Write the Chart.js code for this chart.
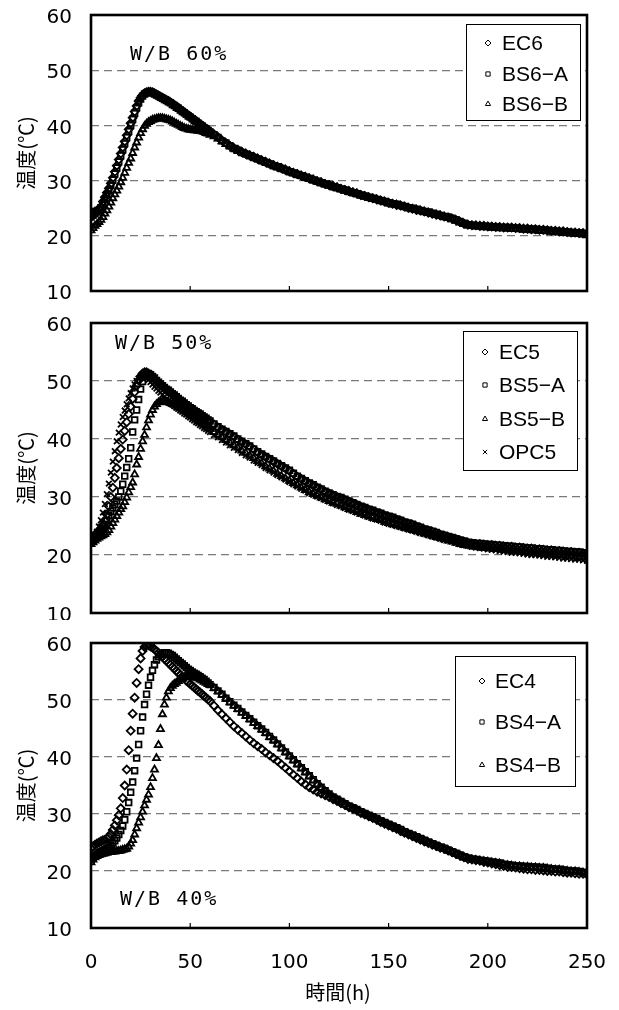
<!DOCTYPE html>
<html>
<head>
<meta charset="utf-8">
<script src="https://cdn.jsdelivr.net/npm/chart.js@4/dist/chart.umd.min.js"></script>
<style>
body { margin: 0; background: #fff; width: 619px; height: 1010px; position: relative; overflow: hidden; }
canvas { position: absolute; left: 0; }
</style>
</head>
<body>
<canvas id="c60" width="619" height="305" style="top:0px"></canvas>
<canvas id="c50" width="619" height="315" style="top:305px"></canvas>
<canvas id="c40" width="619" height="390" style="top:620px"></canvas>
<script>
// elapsed time (h), shared by all three panels
const hours = [
    0,1,2,3,4,5,6,7,8,9,
    10,11,12,13,14,15,16,17,18,19,
    20,21,22,23,24,25,26,27,28,29,
    30,31,32,33,34,35,36,37,38,39,
    40,41,42,43,44,45,46,47,48,49,
    50,51,52,53,54,55,56,57,58,59,
    60,
    62,64,66,68,70,72,74,76,78,80,
    82,84,86,88,90,92,94,96,98,100,
    102,104,106,108,110,112,114,116,118,120,
    122,124,126,128,130,132,134,136,138,140,
    142,144,146,148,150,152,154,156,158,160,
    162,164,166,168,170,172,174,176,178,180,
    182,184,186,188,190,192,194,196,198,200,
    202,204,206,208,210,212,214,216,218,220,
    222,224,226,228,230,232,234,236,238,240,
    242,244,246,248,250
];
const xTicks = [0, 50, 100, 150, 200, 250];
const yTicks = [10, 20, 30, 40, 50, 60];

// W/B 60%
const ec6 = [
    24.0,24.2,24.4,24.5,24.8,25.3,26.2,27.0,27.8,28.6,
    29.5,30.5,31.6,32.7,33.8,34.9,36.0,37.1,38.2,39.3,
    40.4,41.4,42.5,43.5,44.4,45.0,45.5,45.8,46.0,46.1,
    46.1,46.0,45.8,45.6,45.4,45.2,45.0,44.8,44.6,44.4,
    44.2,43.9,43.7,43.4,43.2,42.9,42.6,42.4,42.1,41.8,
    41.6,41.3,41.0,40.8,40.5,40.2,40.0,39.7,39.4,39.2,
    38.9,
    38.4,37.9,37.3,36.8,36.3,35.9,35.6,35.2,34.9,34.6,
    34.3,34.0,33.7,33.4,33.1,32.8,32.5,32.3,32.0,31.7,
    31.4,31.2,30.9,30.7,30.4,30.2,29.9,29.7,29.4,29.2,
    29.0,28.8,28.5,28.3,28.1,27.9,27.7,27.4,27.2,27.0,
    26.8,26.6,26.4,26.2,26.0,25.8,25.6,25.5,25.3,25.1,
    24.9,24.7,24.6,24.4,24.2,24.0,23.8,23.7,23.5,23.3,
    23.1,22.8,22.5,22.2,22.0,21.9,21.9,21.8,21.8,21.7,
    21.7,21.6,21.6,21.5,21.5,21.5,21.4,21.4,21.3,21.3,
    21.2,21.2,21.1,21.1,21.0,20.9,20.9,20.8,20.8,20.7,
    20.6,20.6,20.5,20.5,20.4
];
const bs6a = [
    23.4,23.7,24.0,24.3,24.6,25.1,25.8,26.6,27.4,28.2,
    29.1,30.1,31.2,32.3,33.4,34.5,35.6,36.7,37.8,38.9,
    40.0,41.1,42.2,43.2,44.1,44.8,45.3,45.7,45.9,46.0,
    46.0,45.9,45.7,45.5,45.3,45.1,44.9,44.7,44.5,44.3,
    44.1,43.8,43.6,43.3,43.1,42.8,42.5,42.3,42.0,41.7,
    41.5,41.2,40.9,40.7,40.4,40.1,39.9,39.6,39.3,39.1,
    38.8,
    38.3,37.8,37.2,36.8,36.3,35.8,35.5,35.1,34.8,34.5,
    34.2,33.9,33.6,33.3,33.0,32.7,32.5,32.2,31.9,31.6,
    31.4,31.1,30.9,30.6,30.4,30.1,29.9,29.6,29.4,29.2,
    28.9,28.7,28.5,28.3,28.0,27.8,27.6,27.4,27.2,27.0,
    26.8,26.6,26.4,26.2,26.0,25.8,25.7,25.5,25.3,25.1,
    25.0,24.8,24.6,24.4,24.3,24.1,23.9,23.7,23.5,23.4,
    23.2,22.9,22.6,22.3,22.0,21.9,21.8,21.8,21.7,21.7,
    21.6,21.6,21.5,21.5,21.5,21.4,21.4,21.3,21.3,21.3,
    21.2,21.2,21.1,21.0,21.0,20.9,20.8,20.8,20.7,20.7,
    20.6,20.5,20.5,20.4,20.3
];
const bs6b = [
    21.0,21.4,21.8,22.1,22.5,22.9,23.4,24.0,24.6,25.3,
    26.0,26.8,27.5,28.2,28.9,29.7,30.5,31.4,32.3,33.2,
    34.0,35.0,36.0,36.9,37.8,38.6,39.3,39.9,40.3,40.6,
    40.8,41.0,41.1,41.2,41.3,41.3,41.3,41.2,41.1,41.0,
    40.9,40.7,40.5,40.3,40.1,39.9,39.7,39.5,39.4,39.3,
    39.2,39.2,39.1,39.1,39.0,39.0,38.9,38.8,38.6,38.5,
    38.3,
    38.0,37.6,37.1,36.6,36.2,35.8,35.4,35.1,34.8,34.5,
    34.2,33.9,33.6,33.3,33.0,32.7,32.4,32.1,31.9,31.6,
    31.3,31.1,30.8,30.6,30.3,30.1,29.8,29.6,29.3,29.1,
    28.9,28.7,28.4,28.2,28.0,27.8,27.6,27.3,27.1,26.9,
    26.7,26.5,26.3,26.1,25.9,25.7,25.6,25.4,25.2,25.0,
    24.8,24.7,24.5,24.3,24.1,24.0,23.8,23.6,23.4,23.2,
    23.0,22.7,22.4,22.1,21.9,21.8,21.7,21.7,21.6,21.6,
    21.5,21.5,21.4,21.4,21.3,21.3,21.2,21.2,21.1,21.1,
    21.0,21.0,20.9,20.9,20.8,20.7,20.7,20.6,20.5,20.5,
    20.4,20.3,20.3,20.2,20.1
];

// W/B 50%
const ec5 = [
    23.0,23.2,23.5,23.8,24.2,24.6,25.2,25.9,27.0,28.4,
    30.0,31.6,33.3,35.0,36.7,38.3,39.9,41.4,42.9,44.3,
    45.6,46.9,48.1,49.2,50.1,50.8,51.3,51.5,51.5,51.3,
    51.0,50.7,50.3,50.0,49.6,49.3,49.0,48.7,48.5,48.2,
    48.0,47.7,47.4,47.2,46.9,46.6,46.3,46.1,45.8,45.5,
    45.3,45.1,44.8,44.6,44.4,44.2,43.9,43.7,43.5,43.2,
    43.0,
    42.5,42.0,41.6,41.2,40.8,40.4,39.9,39.5,39.1,38.7,
    38.2,37.7,37.3,36.9,36.5,36.1,35.7,35.3,34.9,34.5,
    34.0,33.5,33.1,32.7,32.3,32.0,31.6,31.3,30.9,30.6,
    30.3,30.0,29.8,29.5,29.2,28.9,28.6,28.3,28.1,27.8,
    27.6,27.3,27.1,26.8,26.6,26.4,26.1,25.9,25.6,25.4,
    25.2,24.9,24.7,24.4,24.2,24.0,23.8,23.5,23.3,23.1,
    22.9,22.7,22.5,22.3,22.1,22.0,21.9,21.9,21.8,21.7,
    21.7,21.6,21.6,21.5,21.4,21.4,21.3,21.3,21.2,21.1,
    21.1,21.0,21.0,20.9,20.8,20.8,20.7,20.7,20.6,20.5,
    20.5,20.4,20.4,20.3,20.3
];
const bs5a = [
    22.5,22.8,23.1,23.4,23.7,24.1,24.6,25.3,26.0,26.8,
    27.5,28.1,28.7,29.3,30.0,31.0,32.2,33.6,35.1,36.6,
    38.5,41.2,43.3,45.0,46.8,48.6,49.9,50.8,51.2,51.3,
    51.1,50.8,50.5,50.1,49.8,49.5,49.2,48.9,48.6,48.4,
    48.1,47.8,47.6,47.3,47.0,46.7,46.5,46.2,45.9,45.7,
    45.4,45.2,44.9,44.7,44.5,44.3,44.0,43.8,43.6,43.3,
    43.1,
    42.6,42.1,41.7,41.3,40.9,40.5,40.0,39.6,39.2,38.8,
    38.3,37.8,37.4,37.0,36.6,36.2,35.8,35.4,35.0,34.6,
    34.1,33.6,33.2,32.8,32.4,32.1,31.7,31.4,31.0,30.7,
    30.4,30.1,29.9,29.6,29.3,29.0,28.7,28.4,28.2,27.9,
    27.7,27.4,27.2,26.9,26.7,26.5,26.2,26.0,25.7,25.5,
    25.3,25.0,24.8,24.5,24.3,24.1,23.9,23.6,23.4,23.2,
    23.0,22.8,22.6,22.4,22.2,22.1,22.0,22.0,21.9,21.8,
    21.8,21.7,21.7,21.6,21.5,21.5,21.4,21.4,21.3,21.2,
    21.2,21.1,21.1,21.0,20.9,20.9,20.8,20.8,20.7,20.6,
    20.6,20.5,20.5,20.4,20.4
];
const bs5b = [
    21.9,22.2,22.5,22.8,23.0,23.2,23.4,23.6,23.9,24.3,
    24.9,25.5,26.1,26.7,27.3,27.9,28.4,29.1,29.9,30.8,
    31.7,32.5,33.9,35.6,36.9,38.3,39.6,40.7,42.0,43.2,
    44.2,45.0,45.6,46.0,46.3,46.4,46.5,46.5,46.4,46.3,
    46.2,46.0,45.9,45.7,45.5,45.3,45.1,44.9,44.7,44.4,
    44.2,44.0,43.7,43.5,43.2,43.0,42.7,42.5,42.2,42.0,
    41.7,
    41.2,40.7,40.3,39.8,39.4,38.9,38.5,38.0,37.6,37.1,
    36.7,36.2,35.8,35.3,34.9,34.5,34.0,33.6,33.2,32.8,
    32.4,32.0,31.6,31.2,30.8,30.5,30.2,29.9,29.6,29.3,
    29.0,28.8,28.5,28.2,27.9,27.7,27.4,27.1,26.9,26.6,
    26.4,26.2,26.0,25.7,25.5,25.3,25.1,24.9,24.7,24.5,
    24.3,24.1,23.9,23.7,23.5,23.3,23.1,22.9,22.7,22.5,
    22.3,22.1,21.9,21.7,21.6,21.5,21.4,21.3,21.2,21.2,
    21.1,21.0,21.0,20.9,20.8,20.8,20.7,20.6,20.6,20.5,
    20.4,20.4,20.3,20.2,20.2,20.1,20.0,20.0,19.9,19.8,
    19.8,19.7,19.6,19.6,19.5
];
const opc5 = [
    22.5,22.9,23.3,24.0,24.9,26.0,27.3,28.8,30.5,32.3,
    34.2,36.1,37.9,39.6,41.1,42.5,43.8,44.9,46.0,47.0,
    47.9,48.7,49.4,50.0,50.4,50.7,50.8,50.7,50.5,50.2,
    49.8,49.4,49.0,48.7,48.3,48.0,47.6,47.3,46.9,46.6,
    46.3,46.0,45.7,45.4,45.2,44.9,44.7,44.4,44.2,43.9,
    43.7,43.4,43.2,42.9,42.7,42.4,42.2,41.9,41.7,41.4,
    41.2,
    40.7,40.3,39.8,39.4,38.9,38.5,38.1,37.6,37.2,36.8,
    36.3,35.9,35.5,35.0,34.6,34.2,33.8,33.4,33.0,32.6,
    32.2,31.8,31.4,31.1,30.7,30.4,30.1,29.8,29.5,29.2,
    28.9,28.6,28.4,28.1,27.8,27.6,27.3,27.1,26.8,26.6,
    26.3,26.1,25.9,25.6,25.4,25.2,25.0,24.8,24.6,24.4,
    24.2,24.0,23.8,23.6,23.4,23.2,23.0,22.8,22.6,22.5,
    22.3,22.1,21.9,21.7,21.6,21.4,21.3,21.2,21.1,21.0,
    20.9,20.8,20.7,20.6,20.5,20.4,20.4,20.3,20.2,20.1,
    20.0,20.0,19.9,19.8,19.7,19.7,19.6,19.5,19.4,19.4,
    19.3,19.2,19.2,19.1,19.0
];

// W/B 40%
const ec4 = [
    24.0,24.3,24.6,24.8,25.0,25.2,25.4,25.5,25.7,26.0,
    26.5,27.2,28.0,28.9,29.8,31.0,32.8,35.0,37.8,41.2,
    44.6,47.6,50.4,53.0,55.4,57.3,58.6,59.3,59.6,59.6,
    59.4,59.2,58.9,58.6,58.3,57.9,57.6,57.2,56.9,56.5,
    56.2,55.8,55.5,55.1,54.8,54.4,54.1,53.8,53.4,53.1,
    52.8,52.5,52.2,51.9,51.6,51.3,51.0,50.7,50.4,50.1,
    49.8,
    49.0,48.2,47.5,46.8,46.1,45.4,44.8,44.2,43.6,43.0,
    42.4,41.9,41.4,40.8,40.3,39.8,39.3,38.7,38.1,37.5,
    36.9,36.3,35.7,35.2,34.7,34.3,33.9,33.6,33.3,33.0,
    32.6,32.3,31.9,31.6,31.2,30.9,30.6,30.2,29.9,29.6,
    29.3,29.0,28.6,28.3,28.0,27.7,27.4,27.0,26.7,26.4,
    26.1,25.8,25.5,25.2,24.9,24.6,24.4,24.1,23.9,23.6,
    23.3,23.0,22.7,22.4,22.1,22.0,21.9,21.8,21.6,21.5,
    21.3,21.2,21.0,20.9,20.7,20.7,20.6,20.5,20.4,20.3,
    20.3,20.2,20.2,20.1,20.0,20.0,19.9,19.9,19.8,19.7,
    19.7,19.6,19.5,19.5,19.4
];
const bs4a = [
    22.0,22.4,22.7,23.0,23.2,23.4,23.6,23.8,24.0,24.2,
    24.5,24.9,25.3,25.8,26.4,27.1,27.9,29.0,30.4,32.0,
    33.8,35.6,37.6,39.8,42.2,44.6,47.0,49.2,51.0,52.6,
    54.0,55.2,56.2,57.0,57.6,58.0,58.2,58.3,58.3,58.2,
    58.0,57.8,57.5,57.2,56.9,56.6,56.3,56.0,55.7,55.4,
    55.2,54.9,54.7,54.5,54.3,54.1,53.8,53.6,53.3,53.0,
    52.7,
    52.2,51.6,51.0,50.3,49.7,49.1,48.5,47.9,47.3,46.7,
    46.1,45.5,44.9,44.3,43.6,43.0,42.3,41.6,40.9,40.2,
    39.5,38.8,38.1,37.4,36.7,36.0,35.3,34.7,34.1,33.5,
    33.0,32.6,32.2,31.8,31.4,31.1,30.8,30.4,30.1,29.8,
    29.5,29.2,28.8,28.5,28.2,27.9,27.6,27.3,26.9,26.6,
    26.3,26.0,25.7,25.4,25.1,24.8,24.5,24.2,24.0,23.7,
    23.4,23.1,22.8,22.5,22.3,22.1,22.0,21.9,21.8,21.7,
    21.6,21.5,21.4,21.2,21.1,21.0,20.9,20.9,20.8,20.8,
    20.7,20.7,20.6,20.6,20.5,20.4,20.3,20.3,20.2,20.1,
    20.0,20.0,19.9,19.8,19.7
];
const bs4b = [
    21.5,22.0,22.4,22.6,22.8,22.9,23.0,23.1,23.2,23.3,
    23.3,23.4,23.4,23.5,23.5,23.6,23.7,23.8,23.9,24.3,
    24.8,25.4,26.4,27.5,28.5,29.4,30.4,31.5,32.5,33.4,
    34.7,36.3,37.8,39.8,42.1,44.9,47.5,49.2,50.4,51.5,
    52.1,52.5,52.8,53.0,53.3,53.6,53.8,54.0,54.1,54.2,
    54.2,54.1,54.0,53.9,53.8,53.6,53.4,53.2,53.0,52.8,
    52.6,
    52.1,51.5,50.9,50.2,49.6,49.0,48.4,47.8,47.2,46.6,
    46.0,45.4,44.8,44.2,43.5,42.9,42.2,41.5,40.8,40.1,
    39.4,38.7,38.0,37.3,36.6,35.9,35.2,34.6,34.0,33.4,
    32.9,32.5,32.1,31.7,31.3,31.0,30.7,30.3,30.0,29.7,
    29.4,29.1,28.7,28.4,28.1,27.8,27.5,27.2,26.8,26.5,
    26.2,25.9,25.6,25.3,25.0,24.7,24.4,24.1,23.9,23.6,
    23.3,23.0,22.7,22.4,22.2,22.0,21.9,21.8,21.7,21.6,
    21.5,21.4,21.3,21.1,21.0,20.9,20.8,20.8,20.7,20.7,
    20.6,20.6,20.5,20.5,20.4,20.3,20.2,20.2,20.1,20.0,
    19.9,19.9,19.8,19.7,19.6
];

const tickFont = { family: '"DejaVu Sans", sans-serif', size: 20 };
const cjkFont = '20px "Noto Sans CJK JP", sans-serif';

// page coords of plot boxes, legends and labels
const panels = [
    {
        id: 'c60', top: 0, padTop: 15, padBottom: 14, showX: false,
        tag: 'W/B 60%', tagX: 130, tagY: 55,
        box: [466, 24, 114, 96], rows: [43, 74, 104], markX: 488, textX: 502,
        series: [['EC6', ec6, 'rectRot'], ['BS6−A', bs6a, 'rect'], ['BS6−B', bs6b, 'triangle']]
    },
    {
        id: 'c50', top: 305, padTop: 18, padBottom: 7, showX: false,
        tag: 'W/B 50%', tagX: 115, tagY: 344,
        box: [463, 331, 114, 139], rows: [352, 385, 419, 452], markX: 485, textX: 499,
        series: [['EC5', ec5, 'rectRot'], ['BS5−A', bs5a, 'rect'], ['BS5−B', bs5b, 'triangle'], ['OPC5', opc5, 'crossRot']]
    },
    {
        id: 'c40', top: 620, padTop: 23, padBottom: 0, showX: true,
        tag: 'W/B 40%', tagX: 120, tagY: 900,
        box: [455, 656, 120, 130], rows: [681, 722, 765], markX: 482, textX: 495,
        series: [['EC4', ec4, 'rectRot'], ['BS4−A', bs4a, 'rect'], ['BS4−B', bs4b, 'triangle']]
    }
];

function drawMarker(ctx, style, x, y, r) {
    if (Chart.helpers && Chart.helpers.drawPoint) {
        Chart.helpers.drawPoint(ctx, { pointStyle: style, radius: r, borderWidth: 1.2, rotation: 0 }, x, y);
    }
}

const decor = {
    id: 'decor',
    afterDraw(chart) {
        const p = chart.options.plugins.decor;
        const { ctx, chartArea: a, scales } = chart;
        const off = p.top;
        ctx.save();

        // inner tick marks on the time axis
        ctx.strokeStyle = '#000';
        ctx.lineWidth = 1.2;
        xTicks.slice(1, -1).forEach(v => {
            const x = scales.x.getPixelForValue(v);
            ctx.beginPath();
            ctx.moveTo(x, a.bottom);
            ctx.lineTo(x, a.bottom - 5);
            ctx.stroke();
        });

        // frame
        ctx.lineWidth = 2.6;
        ctx.strokeRect(a.left, a.top, a.right - a.left, a.bottom - a.top);

        // W/B label
        ctx.fillStyle = '#000';
        ctx.font = '20px "DejaVu Sans Mono", "Liberation Mono", monospace';
        ctx.letterSpacing = '2px';
        ctx.textAlign = 'left';
        ctx.textBaseline = 'middle';
        ctx.fillText(p.tag, p.tagX, p.tagY - off);
        ctx.letterSpacing = '0px';

        // legend
        const [bx, by, bw, bh] = p.box;
        ctx.fillStyle = '#fff';
        ctx.fillRect(bx, by - off, bw, bh);
        ctx.lineWidth = 1;
        ctx.strokeStyle = '#000';
        ctx.strokeRect(bx + 0.5, by - off + 0.5, bw, bh);
        chart.data.datasets.forEach((ds, i) => {
            const y = p.rows[i] - off;
            ctx.strokeStyle = '#000';
            ctx.fillStyle = 'rgba(0,0,0,0)';
            drawMarker(ctx, ds.pointStyle, p.markX, y, 3);
            ctx.fillStyle = '#000';
            ctx.font = '21px "Liberation Sans", Arial, sans-serif';
            ctx.textAlign = 'left';
            ctx.textBaseline = 'middle';
            ctx.fillText(ds.label, p.textX, y + 1);
        });

        // y axis title
        ctx.save();
        ctx.translate(26, (a.top + a.bottom) / 2);
        ctx.rotate(-Math.PI / 2);
        ctx.font = cjkFont;
        ctx.textAlign = 'center';
        ctx.textBaseline = 'middle';
        ctx.fillText('温度(℃)', 0, 0);
        ctx.restore();

        // x axis title, bottom panel only
        if (p.showX) {
            ctx.font = cjkFont;
            ctx.textAlign = 'center';
            ctx.textBaseline = 'middle';
            ctx.fillText('時間(h)', 338, 992 - off);
        }
        ctx.restore();
    }
};

panels.forEach(p => {
    const canvas = document.getElementById(p.id);
    const datasets = p.series.map(([label, vals, style]) => {
        if (vals.length !== hours.length) console.error(label, vals.length, hours.length);
        return {
            label: label,
            data: hours.map((h, i) => ({ x: h, y: vals[i] })),
            pointStyle: style,
            pointRadius: 4,
            pointBorderWidth: 1.8,
            borderColor: '#000',
            backgroundColor: 'rgba(0,0,0,0)',
            showLine: false
        };
    });

    new Chart(canvas.getContext('2d'), {
        type: 'scatter',
        data: { datasets: datasets },
        plugins: [decor],
        options: {
            responsive: false,
            animation: false,
            devicePixelRatio: 1,
            events: [],
            layout: { padding: { left: 0, right: 32, top: p.padTop, bottom: p.padBottom } },
            plugins: {
                legend: { display: false },
                tooltip: { enabled: false },
                decor: p
            },
            scales: {
                x: {
                    type: 'linear',
                    min: 0,
                    max: 250,
                    afterBuildTicks: s => { s.ticks = xTicks.map(v => ({ value: v })); },
                    afterFit: s => {
                        s.height = p.showX ? 82 : 0;
                        s.paddingLeft = 0;
                        s.paddingRight = 0;
                    },
                    grid: { display: false, drawTicks: false },
                    border: { display: false },
                    ticks: {
                        display: p.showX,
                        padding: 23,
                        color: '#000',
                        font: tickFont,
                        maxRotation: 0
                    }
                },
                y: {
                    type: 'linear',
                    min: 10,
                    max: 60,
                    afterBuildTicks: s => { s.ticks = yTicks.map(v => ({ value: v })); },
                    afterFit: s => {
                        s.width = 91;
                        s.paddingTop = 0;
                        s.paddingBottom = 0;
                    },
                    grid: {
                        drawTicks: false,
                        lineWidth: 1.2,
                        color: c => (c.tick && c.tick.value > 10 && c.tick.value < 60) ? '#7a7a7a' : 'rgba(0,0,0,0)'
                    },
                    border: { display: false, dash: [8, 5] },
                    ticks: { padding: 19, labelOffset: 3, color: '#000', font: tickFont }
                }
            }
        }
    });
});
</script>
</body>
</html>
